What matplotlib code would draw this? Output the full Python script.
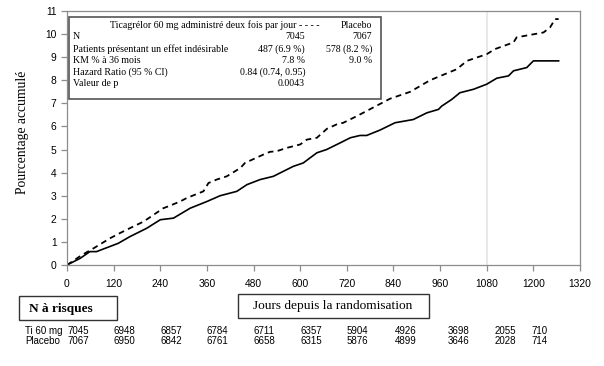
"""
Courbe d'incidence cumulée (Kaplan-Meier) avec tableau des patients à risque
"""
import matplotlib
matplotlib.use('Agg')
import matplotlib.pyplot as plt
import matplotlib.transforms as mtransforms
from matplotlib.patches import Rectangle

# courbe pointillée (supérieure)
days_dash = [0, 38, 68, 111, 136, 171, 197, 248, 265, 291, 308, 351, 364, 385, 411,
             446, 458, 505, 522, 540, 565, 600, 617, 643, 669, 694, 711, 746, 797,
             831, 883, 934, 1003, 1029, 1080, 1101, 1149, 1157, 1226, 1243, 1256, 1265]
pct_dash = [0, 0.43, 0.72, 1.16, 1.38, 1.67, 1.88, 2.46, 2.57, 2.75, 2.90, 3.19, 3.55,
            3.70, 3.84, 4.20, 4.42, 4.78, 4.90, 4.93, 5.07, 5.22, 5.43, 5.51, 5.90,
            6.09, 6.16, 6.45, 6.90, 7.20, 7.50, 8.00, 8.48, 8.84, 9.13, 9.35, 9.64,
            9.86, 10.07, 10.29, 10.65, 10.65]

# courbe continue (inférieure)
days_solid = [0, 34, 59, 76, 132, 162, 205, 240, 274, 317, 360, 394, 437, 463, 497,
              531, 582, 608, 643, 668, 703, 729, 754, 771, 805, 844, 891, 926, 956,
              964, 990, 1011, 1046, 1080, 1106, 1136, 1149, 1183, 1200, 1265]
pct_solid = [0, 0.29, 0.58, 0.58, 0.94, 1.23, 1.59, 1.96, 2.03, 2.46, 2.75, 3.00,
             3.19, 3.48, 3.70, 3.84, 4.27, 4.42, 4.86, 5.00, 5.29, 5.51, 5.61, 5.61,
             5.84, 6.16, 6.30, 6.59, 6.74, 6.88, 7.17, 7.46, 7.61, 7.83, 8.09, 8.19,
             8.41, 8.55, 8.84, 8.84]

x_ticks = [0, 120, 240, 360, 480, 600, 720, 840, 960, 1080, 1200, 1320]
y_ticks = list(range(0, 12))

# patients à risque
risk_days = [0, 120, 240, 360, 480, 600, 720, 843, 980, 1100, 1196]
risk_ti = [7045, 6948, 6857, 6784, 6711, 6357, 5904, 4926, 3698, 2055, 710]
risk_pl = [7067, 6950, 6842, 6761, 6658, 6315, 5876, 4899, 3646, 2028, 714]

# tableau de la légende
legend_rows = [
    ('N', '7045', '7067'),
    ('Patients présentant un effet indésirable', '487 (6.9 %)', '578 (8.2 %)'),
    ('KM % à 36 mois', '7.8 %', '9.0 %'),
    ('Hazard Ratio (95 % CI)', '0.84 (0.74, 0.95)', ''),
    ('Valeur de p', '0.0043', ''),
]

W, H = 604, 366
SERIF = ['Liberation Serif', 'DejaVu Serif']
SANS = ['Liberation Sans', 'DejaVu Sans']


def fx(px):
    return px / W


def fy(py):
    return 1 - py / H


fig = plt.figure(figsize=(W / 100, H / 100), dpi=100)
ax = fig.add_axes([fx(67), fy(265), fx(580) - fx(67), fy(11) - fy(265)])

ax.axvline(1080, color='#e6e6e6', linewidth=1.3, zorder=0)
ax.plot(days_dash, pct_dash, color='black', linewidth=1.3, linestyle=(0, (3.2, 2.4)))
ax.plot(days_solid, pct_solid, color='black', linewidth=1.2)

ax.set_xlim(0, 1320)
ax.set_ylim(0, 11)
ax.set_xticks(x_ticks)
ax.set_yticks(y_ticks)
for s in ax.spines.values():
    s.set_color('#8c8c8c')
    s.set_linewidth(0.9)
ax.tick_params(colors='#8c8c8c', length=4, width=0.9, labelcolor='black',
               labelsize=7.4)
for lab in ax.get_xticklabels() + ax.get_yticklabels():
    lab.set_family(SANS)
ax.tick_params(axis='x', pad=6)

fig.text(fx(23), fy(132), 'Pourcentage accumulé', rotation=90, ha='center',
         va='center', family=SERIF, fontsize=9.8)

# boîte de légende
fig.patches.append(Rectangle((fx(69), fy(99)), fx(381) - fx(69), fy(17) - fy(99),
                             transform=fig.transFigure, fill=True, facecolor='white',
                             edgecolor='#555555', linewidth=1.2, zorder=5))
fs_leg = 7.1
fig.text(fx(110), fy(25), 'Ticagrélor 60 mg administré deux fois par jour - - - -',
         ha='left', va='center', family=SERIF, fontsize=fs_leg, zorder=6)
fig.text(fx(372), fy(25), 'Placebo', ha='right', va='center', family=SERIF,
         fontsize=fs_leg, zorder=6)
row_y = [36.7, 48.8, 60.5, 72, 83.5]
for (lab, v1, v2), yy in zip(legend_rows, row_y):
    fig.text(fx(73), fy(yy), lab, ha='left', va='center', family=SERIF,
             fontsize=fs_leg, zorder=6)
    fig.text(fx(305), fy(yy), v1, ha='right', va='center', family=SERIF,
             fontsize=fs_leg, zorder=6)
    if v2:
        fig.text(fx(372), fy(yy), v2, ha='right', va='center', family=SERIF,
                 fontsize=fs_leg, zorder=6)

# boîtes sous l'axe
fig.patches.append(Rectangle((fx(19), fy(320)), fx(117) - fx(19), fy(296) - fy(320),
                             transform=fig.transFigure, fill=False,
                             edgecolor='#333333', linewidth=1.0))
fig.text(fx(29), fy(309), 'N à risques', ha='left', va='center', family=SERIF,
         fontsize=9.6, fontweight='bold')
fig.patches.append(Rectangle((fx(238), fy(318)), fx(429) - fx(238), fy(294) - fy(318),
                             transform=fig.transFigure, fill=False,
                             edgecolor='#333333', linewidth=1.0))
fig.text(fx(333), fy(306), 'Jours depuis la randomisation', ha='center', va='center',
         family=SERIF, fontsize=9.6)

# tableau des patients à risque
trans = mtransforms.blended_transform_factory(ax.transData, fig.transFigure)
fs_risk = 7.0
fig.text(fx(25), fy(331), 'Ti 60 mg', ha='left', va='center', family=SANS,
         fontsize=fs_risk)
fig.text(fx(25), fy(341.5), 'Placebo', ha='left', va='center', family=SANS,
         fontsize=fs_risk)
for d, a, b in zip(risk_days, risk_ti, risk_pl):
    ax.text(d, fy(331), str(a), transform=trans, ha='left', va='center',
            family=SANS, fontsize=fs_risk, clip_on=False)
    ax.text(d, fy(341.5), str(b), transform=trans, ha='left', va='center',
            family=SANS, fontsize=fs_risk, clip_on=False)

fig.savefig('out.png', dpi=100)
plt.close(fig)
